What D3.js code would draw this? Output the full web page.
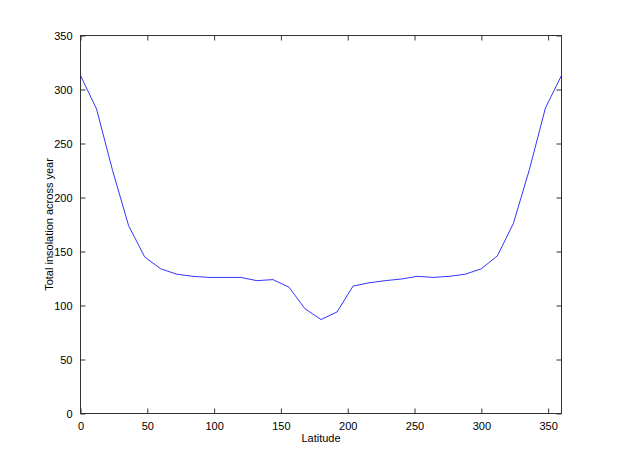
<!DOCTYPE html>
<html><head><meta charset="utf-8">
<script src="https://cdn.jsdelivr.net/npm/d3@7"></script>
<style>body{margin:0;background:#fff}</style>
</head><body>
<script>
const latitude = [0,12,24,36,48,60,72,84,96,108,120,132,144,156,168,180,192,204,216,228,240,252,264,276,288,300,312,324,336,348,360];
const insolation = [313,282,225,174,145,134,129,127,126,126,126,123,124,117,97,87,94,118,121,123,124.5,127,126,127,129,134,146,176,226,283,313];
const xTicks = [0,50,100,150,200,250,300,350];
const yTicks = [0,50,100,150,200,250,300,350];

(function(){
const W=620,H=465;
const m={l:80.5,r:58.5,t:35.5,b:51.5};
const svg=d3.select("body").append("svg").attr("width",W).attr("height",H);
const x=d3.scaleLinear().domain([0,360]).range([m.l,W-m.r]);
const y=d3.scaleLinear().domain([0,350]).range([H-m.b,m.t]);
const font="'Liberation Sans', Arial, sans-serif";
const axCol="#333";

svg.append("rect").attr("x",x(0)).attr("y",y(350)).attr("width",x(360)-x(0)).attr("height",y(0)-y(350))
  .attr("fill","none").attr("stroke",axCol).attr("stroke-width",1);

const gB=svg.append("g").attr("transform",`translate(0,${y(0)})`)
  .call(d3.axisBottom(x).tickValues(xTicks).tickSizeInner(-5).tickSizeOuter(0).tickPadding(9));
const gT=svg.append("g").attr("transform",`translate(0,${y(350)})`)
  .call(d3.axisTop(x).tickValues(xTicks).tickSizeInner(-5).tickSizeOuter(0).tickFormat(""));
const gL=svg.append("g").attr("transform",`translate(${x(0)},0)`)
  .call(d3.axisLeft(y).tickValues(yTicks).tickSizeInner(-5).tickSizeOuter(0).tickPadding(8));
const gR=svg.append("g").attr("transform",`translate(${x(360)},0)`)
  .call(d3.axisRight(y).tickValues(yTicks).tickSizeInner(-5).tickSizeOuter(0).tickFormat(""));
[gB,gT,gL,gR].forEach(g=>{
  g.select(".domain").remove();
  g.selectAll("line").attr("stroke",axCol);
  g.selectAll("text").attr("font-family",font).attr("font-size",11).attr("fill","#000");
});

svg.append("path").datum(latitude.map((d,i)=>[d,insolation[i]]))
  .attr("fill","none").attr("stroke","#0000ff").attr("stroke-width",0.8)
  .attr("d",d3.line().x(d=>x(d[0])).y(d=>y(d[1])));

svg.append("text").attr("x",(x(0)+x(360))/2).attr("y",442).attr("text-anchor","middle")
  .attr("font-family",font).attr("font-size",11).text("Latitude");
svg.append("text").attr("transform",`translate(53,${(y(0)+y(350))/2}) rotate(-90)`).attr("text-anchor","middle")
  .attr("font-family",font).attr("font-size",11).text("Total insolation across year");
})();
</script>
</body></html>
